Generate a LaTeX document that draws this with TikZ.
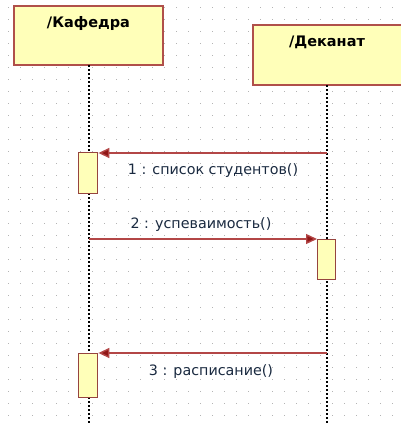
\documentclass[tikz,border=0pt]{standalone}
\usepackage{fontspec}
\setmainfont{DejaVu Sans}
\usetikzlibrary{arrows.meta}
\definecolor{boxfill}{HTML}{FFFFB9}
\definecolor{boxline}{HTML}{B0504A}
\definecolor{msgline}{HTML}{A01818}
\definecolor{labtext}{HTML}{1A2A40}
\definecolor{griddot}{HTML}{B4B4B4}
\tikzset{
  objbox/.style={draw=boxline, line width=1.6pt, fill=boxfill},
  actbox/.style={draw=boxline!85!black, line width=1.4pt, fill=boxfill},
  lifeline/.style={line width=2pt, dash pattern=on 2pt off 2pt, black},
  msg/.style={draw=msgline!80!white, line width=1.4pt, -{Triangle[length=11pt,width=10pt,fill=msgline!90!black]}},
  objtitle/.style={font=\bfseries\fontsize{14.5}{16}\selectfont, text=black},
  msglabel/.style={font=\fontsize{14.3}{16}\selectfont, text=labtext, inner sep=0pt}
}
\begin{document}
\begin{tikzpicture}[x=1pt,y=-1pt]
\useasboundingbox (0,0) rectangle (400,423);
\fill[white] (0,0) rectangle (400,423);
% grid dots
\foreach \i in {0,...,33} {
  \foreach \j in {0,...,35} {
    \fill[griddot] (7.5+12*\i, 6.5+12*\j) rectangle +(1.2,1.2);
  }
}
% object boxes
\draw[objbox] (14,6) rectangle (163,65);
\node[objtitle] (kaf) at (88.5,23) {/Кафедра};
\draw[objbox] (253,25) rectangle (403,85);
\node[objtitle] (dek) at (327,42) {/Деканат};
\coordinate (kafbot) at (89,65);
\coordinate (kafend) at (89,423);
\coordinate (dekbot) at (327,85);
\coordinate (dekend) at (327,423);
% lifelines
\draw[lifeline] (kafbot) -- (kafend);
\draw[lifeline] (dekbot) -- (dekend);
% activations
\node[actbox, minimum width=19pt, minimum height=41pt, inner sep=0pt, anchor=north west] (a1) at (78,152) {};
\node[actbox, minimum width=18pt, minimum height=40pt, inner sep=0pt, anchor=north west] (a2) at (317,239) {};
\node[actbox, minimum width=19pt, minimum height=44pt, inner sep=0pt, anchor=north west] (a3) at (78,353) {};
% messages
\coordinate (m1s) at (327,153);
\coordinate (m2s) at (89,239);
\coordinate (m3s) at (327,353);
\draw[msg] (m1s) -- (a1.north east |- m1s);
\draw[msg] (m2s) -- (a2.north west);
\draw[msg] (m3s) -- (a3.north east |- m3s);
\node[msglabel] (l1) at (213,171) {1 : список студентов()};
\node[msglabel] (l2) at (201,225) {2 : успеваимость()};
\node[msglabel] (l3) at (211,372) {3 : расписание()};
\end{tikzpicture}
\end{document}
